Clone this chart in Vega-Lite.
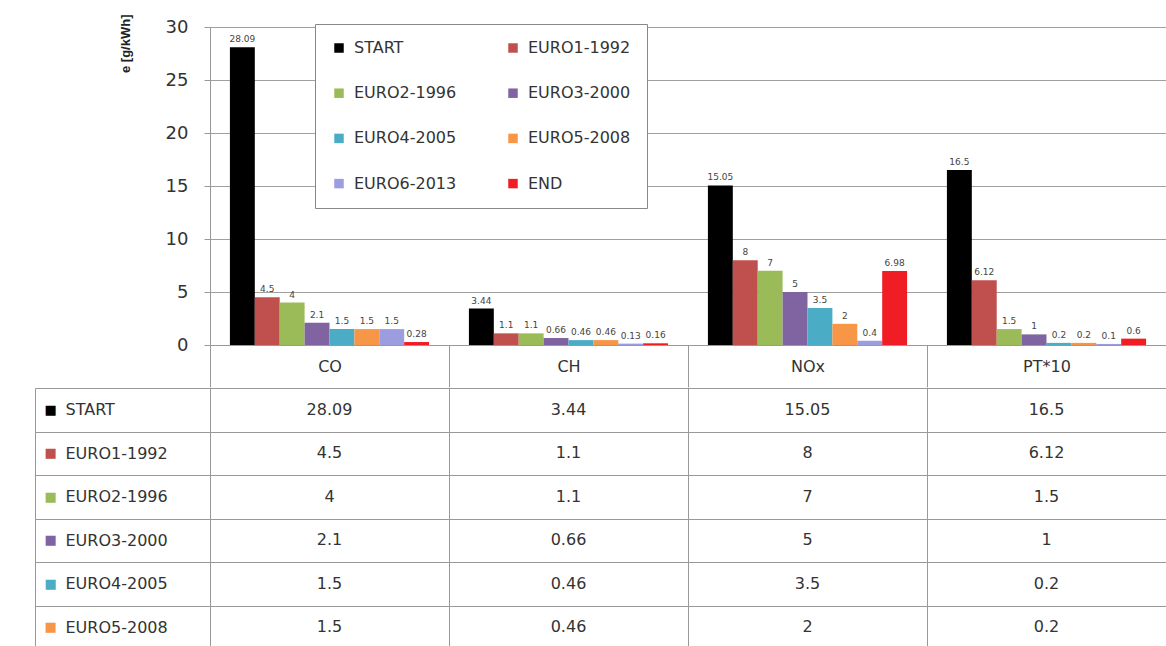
{
  "$schema": "https://vega.github.io/schema/vega-lite/v6.json",
  "padding": {"left": 34, "top": 13, "right": 0, "bottom": 0},
  "background": "white",
  "spacing": -8,
  "config": {"font": "DejaVu Sans", "view": {"stroke": null}},
  "data": {"values": [
    {"pollutant": "CO", "series": "START", "value": 28.09},
    {"pollutant": "CO", "series": "EURO1-1992", "value": 4.5},
    {"pollutant": "CO", "series": "EURO2-1996", "value": 4},
    {"pollutant": "CO", "series": "EURO3-2000", "value": 2.1},
    {"pollutant": "CO", "series": "EURO4-2005", "value": 1.5},
    {"pollutant": "CO", "series": "EURO5-2008", "value": 1.5},
    {"pollutant": "CO", "series": "EURO6-2013", "value": 1.5},
    {"pollutant": "CO", "series": "END", "value": 0.28},
    {"pollutant": "CH", "series": "START", "value": 3.44},
    {"pollutant": "CH", "series": "EURO1-1992", "value": 1.1},
    {"pollutant": "CH", "series": "EURO2-1996", "value": 1.1},
    {"pollutant": "CH", "series": "EURO3-2000", "value": 0.66},
    {"pollutant": "CH", "series": "EURO4-2005", "value": 0.46},
    {"pollutant": "CH", "series": "EURO5-2008", "value": 0.46},
    {"pollutant": "CH", "series": "EURO6-2013", "value": 0.13},
    {"pollutant": "CH", "series": "END", "value": 0.16},
    {"pollutant": "NOx", "series": "START", "value": 15.05},
    {"pollutant": "NOx", "series": "EURO1-1992", "value": 8},
    {"pollutant": "NOx", "series": "EURO2-1996", "value": 7},
    {"pollutant": "NOx", "series": "EURO3-2000", "value": 5},
    {"pollutant": "NOx", "series": "EURO4-2005", "value": 3.5},
    {"pollutant": "NOx", "series": "EURO5-2008", "value": 2},
    {"pollutant": "NOx", "series": "EURO6-2013", "value": 0.4},
    {"pollutant": "NOx", "series": "END", "value": 6.98},
    {"pollutant": "PT*10", "series": "START", "value": 16.5},
    {"pollutant": "PT*10", "series": "EURO1-1992", "value": 6.12},
    {"pollutant": "PT*10", "series": "EURO2-1996", "value": 1.5},
    {"pollutant": "PT*10", "series": "EURO3-2000", "value": 1},
    {"pollutant": "PT*10", "series": "EURO4-2005", "value": 0.2},
    {"pollutant": "PT*10", "series": "EURO5-2008", "value": 0.2},
    {"pollutant": "PT*10", "series": "EURO6-2013", "value": 0.1},
    {"pollutant": "PT*10", "series": "END", "value": 0.6}
  ]},
  "vconcat": [
    {
      "width": 956,
      "height": 318,
      "encoding": {
        "x": {"field": "pollutant", "type": "nominal", "sort": ["CO", "CH", "NOx", "PT*10"],
          "scale": {"paddingInner": 0, "paddingOuter": 0},
          "axis": {"title": null, "labelAngle": 0, "labelFontSize": 16, "labelColor": "#333", "labelPadding": -29,
            "tickBand": "extent", "tickSize": 42, "tickColor": "#999", "domainColor": "#999"}},
        "xOffset": {"field": "series", "type": "nominal",
          "sort": ["START", "EURO1-1992", "EURO2-1996", "EURO3-2000", "EURO4-2005", "EURO5-2008", "EURO6-2013", "END"],
          "scale": {"paddingOuter": 0.8, "paddingInner": 0}},
        "y": {"field": "value", "type": "quantitative", "scale": {"domain": [0, 30]},
          "axis": {"title": "e [g/kWh]", "titleFont": "Liberation Sans", "titleFontSize": 13, "titleFontWeight": "bold", "titleColor": "#222",
            "titleAnchor": "end", "titleY": -13, "titlePadding": 33, "labelFontSize": 18, "labelColor": "#333", "values": [0, 5, 10, 15, 20, 25, 30],
            "tickSize": 6, "tickColor": "#999", "domainColor": "#999", "gridColor": "#a0a0a0", "labelPadding": 16}}
      },
      "layer": [
        {
          "mark": {"type": "bar"},
          "encoding": {
            "color": {"field": "series", "type": "nominal",
              "scale": {"domain": ["START", "EURO1-1992", "EURO2-1996", "EURO3-2000", "EURO4-2005", "EURO5-2008", "EURO6-2013", "END"],
                "range": ["#000000", "#C0504D", "#9BBB59", "#8064A2", "#4BACC6", "#F79646", "#9C9CE0", "#F01E24"]},
              "legend": {"title": null, "orient": "none", "legendX": 105, "legendY": -3, "columns": 2, "direction": "horizontal", "padding": 16,
                "rowPadding": 29.2, "columnPadding": 48, "labelFontSize": 16, "labelColor": "#333", "symbolType": "square",
                "symbolSize": 90, "symbolStrokeWidth": 0, "labelOffset": 7, "strokeColor": "#888", "fillColor": "white"}}
          }
        },
        {
          "mark": {"type": "text", "dy": -8, "fontSize": 9, "color": "#444"},
          "encoding": {"text": {"field": "value", "type": "quantitative"}}
        }
      ]
    },
    {
      "width": 956,
      "height": 261,
      "transform": [{"filter": {"field": "series", "oneOf": ["START", "EURO1-1992", "EURO2-1996", "EURO3-2000", "EURO4-2005", "EURO5-2008"]}}],
      "layer": [
        {
          "mark": {"type": "text", "fontSize": 16, "color": "#333"},
          "encoding": {
            "x": {"field": "pollutant", "type": "nominal", "sort": ["CO", "CH", "NOx", "PT*10"],
              "scale": {"paddingInner": 0, "paddingOuter": 0},
              "axis": {"title": null, "labels": false, "ticks": false, "domain": false, "grid": true, "tickBand": "extent", "gridColor": "#999"}},
            "y": {"field": "series", "type": "nominal",
              "sort": ["START", "EURO1-1992", "EURO2-1996", "EURO3-2000", "EURO4-2005", "EURO5-2008"],
              "scale": {"paddingInner": 0, "paddingOuter": 0},
              "axis": {"title": null, "orient": "left", "labelAlign": "left", "labelPadding": -30, "tickSize": 175,
                "tickBand": "extent", "grid": true, "gridColor": "#999", "tickColor": "#999", "domainColor": "#999",
                "labelFontSize": 16, "labelColor": "#333"}},
            "text": {"field": "value", "type": "quantitative"}
          }
        },
        {
          "mark": {"type": "text", "opacity": 0},
          "encoding": {
            "y": {"field": "series", "type": "nominal",
              "sort": ["START", "EURO1-1992", "EURO2-1996", "EURO3-2000", "EURO4-2005", "EURO5-2008"],
              "axis": {"title": null, "orient": "left", "offset": 175, "labelExpr": "'■'", "labelAlign": "left", "labelPadding": -9,
                "ticks": false, "grid": false, "domainColor": "#999", "labelFontSize": 13,
                "labelColor": {"condition": [
                  {"test": "datum.value === 'EURO1-1992'", "value": "#C0504D"},
                  {"test": "datum.value === 'EURO2-1996'", "value": "#9BBB59"},
                  {"test": "datum.value === 'EURO3-2000'", "value": "#8064A2"},
                  {"test": "datum.value === 'EURO4-2005'", "value": "#4BACC6"},
                  {"test": "datum.value === 'EURO5-2008'", "value": "#F79646"}
                ], "value": "#000000"}}},
            "text": {"value": ""}
          }
        }
      ],
      "resolve": {"axis": {"y": "independent"}}
    }
  ],
  "resolve": {"legend": {"color": "independent"}, "scale": {"color": "independent"}}
}
